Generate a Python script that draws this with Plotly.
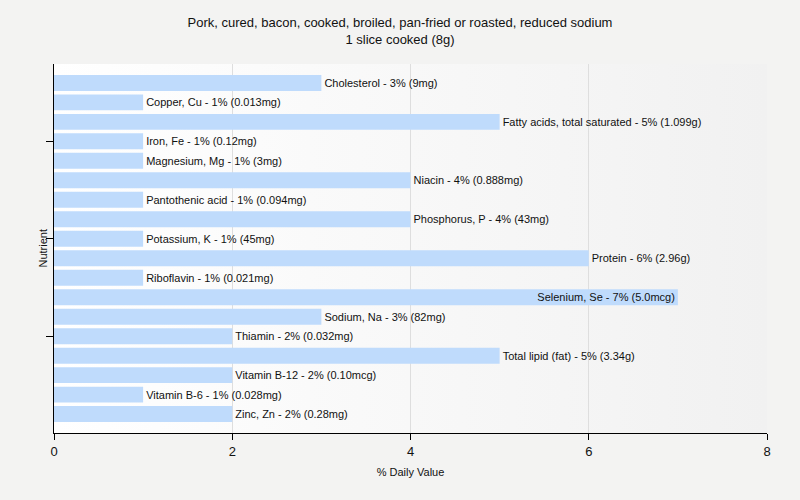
import plotly.graph_objects as go

nutrients = ["Cholesterol", "Copper, Cu", "Fatty acids, total saturated", "Iron, Fe",
             "Magnesium, Mg", "Niacin", "Pantothenic acid", "Phosphorus, P",
             "Potassium, K", "Protein", "Riboflavin", "Selenium, Se", "Sodium, Na",
             "Thiamin", "Total lipid (fat)", "Vitamin B-12", "Vitamin B-6", "Zinc, Zn"]
dv_pct = [3, 1, 5, 1, 1, 4, 1, 4, 1, 6, 1, 7, 3, 2, 5, 2, 1, 2]
amounts = ["9mg", "0.013mg", "1.099g", "0.12mg", "3mg", "0.888mg", "0.094mg", "43mg",
           "45mg", "2.96g", "0.021mg", "5.0mcg", "82mg", "0.032mg", "3.34g", "0.10mcg",
           "0.028mg", "0.28mg"]
tick_nutrients = ["Iron, Fe", "Potassium, K", "Thiamin"]

labels = [f"{n} - {v}% ({a})" for n, v, a in zip(nutrients, dv_pct, amounts)]
positions = ["inside" if v >= 7 else "outside" for v in dv_pct]

L, R, T, B = 54, 33, 64, 67
W, H = 800, 500

grad_svg = ("data:image/svg+xml;utf8,<svg xmlns='http://www.w3.org/2000/svg' width='100' height='100' "
            "preserveAspectRatio='none'><defs><linearGradient id='g' x1='0' y1='0' x2='1' y2='0'>"
            "<stop offset='0' stop-color='%23ffffff'/><stop offset='1' stop-color='%23f1f1f1'/>"
            "</linearGradient></defs><rect width='100' height='100' fill='url(%23g)'/></svg>")

fig = go.Figure(go.Bar(
    x=dv_pct, y=nutrients, orientation="h",
    marker=dict(color="#bfdbfc", line=dict(width=0)),
    text=labels, textposition=positions,
    insidetextanchor="end",
    textfont=dict(family="Liberation Sans", size=11, color="#111111"),
    insidetextfont=dict(color="#111111", size=11),
    outsidetextfont=dict(color="#111111", size=11),
    cliponaxis=False, width=0.82,
))

fig.update_layout(
    width=W, height=H,
    margin=dict(l=L, r=R, t=T, b=B, autoexpand=False),
    paper_bgcolor="#f3f3f2", plot_bgcolor="rgba(0,0,0,0)",
    title=dict(text="Pork, cured, bacon, cooked, broiled, pan-fried or roasted, reduced sodium<br>1 slice cooked (8g)",
               x=0.5, xanchor="center", y=0.946, yanchor="top",
               font=dict(family="Liberation Sans", size=13, color="#111111")),
    font=dict(family="Liberation Sans", size=11, color="#111111"),
    showlegend=False,
    uniformtext=dict(minsize=11, mode="show"),
    images=[dict(source=grad_svg, xref="paper", yref="paper", x=0, y=1, sizex=1, sizey=1,
                 sizing="stretch", layer="below", xanchor="left", yanchor="top")],
    annotations=[dict(text="Nutrient", xref="paper", yref="paper", x=-12 / (W - L - R), y=0.5,
                      xanchor="center", yanchor="middle", textangle=-90, showarrow=False,
                      font=dict(size=11, color="#111111"))],
)
fig.update_xaxes(range=[0, 8], tickvals=[0, 2, 4, 6, 8], showgrid=True, gridcolor="#dedede",
                 zeroline=False, showline=True, linecolor="#000000", linewidth=1,
                 ticks="outside", ticklen=6, tickcolor="#000000", automargin=False,
                 tickfont=dict(size=13),
                 title=dict(text="% Daily Value", font=dict(size=11), standoff=10))
fig.update_yaxes(categoryorder="array", categoryarray=nutrients, range=[17.97, -0.97],
                 tickvals=tick_nutrients, ticktext=["" for _ in tick_nutrients],
                 showline=True, linecolor="#000000", linewidth=1, automargin=False,
                 ticks="outside", ticklen=7, tickcolor="#000000", showgrid=False)

fig.write_html("out.html", config={"displayModeBar": False},
               post_script="document.body.style.margin='0';document.body.style.background='#f3f3f2';")
